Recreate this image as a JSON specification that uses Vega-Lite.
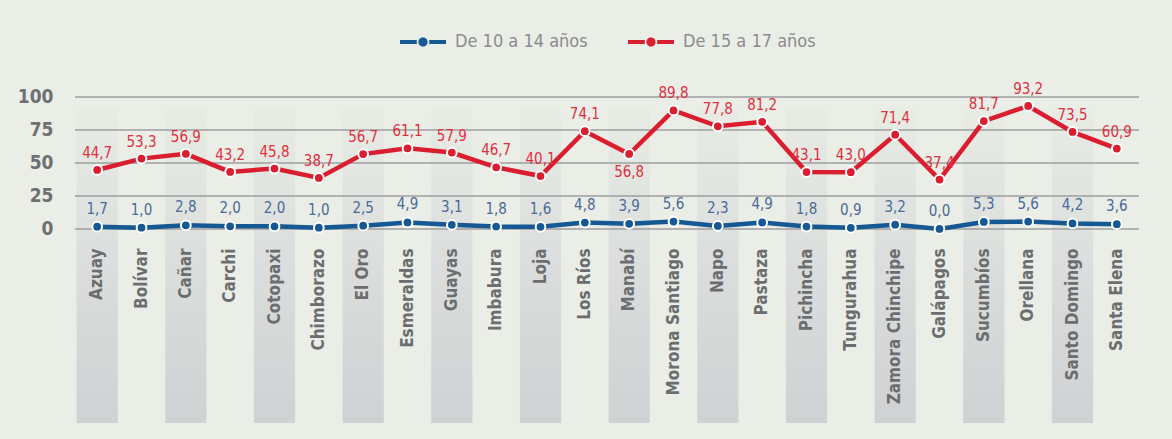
{
  "$schema": "https://vega.github.io/schema/vega-lite/v6.json",
  "width": 1064,
  "height": 363,
  "autosize": {"type": "none"},
  "padding": {"left": 75, "top": 60, "right": 33, "bottom": 16},
  "background": "#eaeee6",
  "config": {
    "view": {"stroke": null},
    "locale": {"number": {"decimal": ",", "thousands": ".", "grouping": [3], "currency": ["", ""]}},
    "font": "Liberation Sans Narrow, DejaVu Sans Condensed"
  },
  "datasets": {
    "grid": [{"v": 0}, {"v": 25}, {"v": 50}, {"v": 75}, {"v": 100}]
  },
  "data": {
    "values": [
      {"provincia": "Azuay", "grupo": "De 10 a 14 años", "valor": 1.7},
      {"provincia": "Bolívar", "grupo": "De 10 a 14 años", "valor": 1.0},
      {"provincia": "Cañar", "grupo": "De 10 a 14 años", "valor": 2.8},
      {"provincia": "Carchi", "grupo": "De 10 a 14 años", "valor": 2.0},
      {"provincia": "Cotopaxi", "grupo": "De 10 a 14 años", "valor": 2.0},
      {"provincia": "Chimborazo", "grupo": "De 10 a 14 años", "valor": 1.0},
      {"provincia": "El Oro", "grupo": "De 10 a 14 años", "valor": 2.5},
      {"provincia": "Esmeraldas", "grupo": "De 10 a 14 años", "valor": 4.9},
      {"provincia": "Guayas", "grupo": "De 10 a 14 años", "valor": 3.1},
      {"provincia": "Imbabura", "grupo": "De 10 a 14 años", "valor": 1.8},
      {"provincia": "Loja", "grupo": "De 10 a 14 años", "valor": 1.6},
      {"provincia": "Los Ríos", "grupo": "De 10 a 14 años", "valor": 4.8},
      {"provincia": "Manabí", "grupo": "De 10 a 14 años", "valor": 3.9},
      {"provincia": "Morona Santiago", "grupo": "De 10 a 14 años", "valor": 5.6},
      {"provincia": "Napo", "grupo": "De 10 a 14 años", "valor": 2.3},
      {"provincia": "Pastaza", "grupo": "De 10 a 14 años", "valor": 4.9},
      {"provincia": "Pichincha", "grupo": "De 10 a 14 años", "valor": 1.8},
      {"provincia": "Tungurahua", "grupo": "De 10 a 14 años", "valor": 0.9},
      {"provincia": "Zamora Chinchipe", "grupo": "De 10 a 14 años", "valor": 3.2},
      {"provincia": "Galápagos", "grupo": "De 10 a 14 años", "valor": 0.0},
      {"provincia": "Sucumbíos", "grupo": "De 10 a 14 años", "valor": 5.3},
      {"provincia": "Orellana", "grupo": "De 10 a 14 años", "valor": 5.6},
      {"provincia": "Santo Domingo", "grupo": "De 10 a 14 años", "valor": 4.2},
      {"provincia": "Santa Elena", "grupo": "De 10 a 14 años", "valor": 3.6},
      {"provincia": "Azuay", "grupo": "De 15 a 17 años", "valor": 44.7},
      {"provincia": "Bolívar", "grupo": "De 15 a 17 años", "valor": 53.3},
      {"provincia": "Cañar", "grupo": "De 15 a 17 años", "valor": 56.9},
      {"provincia": "Carchi", "grupo": "De 15 a 17 años", "valor": 43.2},
      {"provincia": "Cotopaxi", "grupo": "De 15 a 17 años", "valor": 45.8},
      {"provincia": "Chimborazo", "grupo": "De 15 a 17 años", "valor": 38.7},
      {"provincia": "El Oro", "grupo": "De 15 a 17 años", "valor": 56.7},
      {"provincia": "Esmeraldas", "grupo": "De 15 a 17 años", "valor": 61.1},
      {"provincia": "Guayas", "grupo": "De 15 a 17 años", "valor": 57.9},
      {"provincia": "Imbabura", "grupo": "De 15 a 17 años", "valor": 46.7},
      {"provincia": "Loja", "grupo": "De 15 a 17 años", "valor": 40.1},
      {"provincia": "Los Ríos", "grupo": "De 15 a 17 años", "valor": 74.1},
      {"provincia": "Manabí", "grupo": "De 15 a 17 años", "valor": 56.8},
      {"provincia": "Morona Santiago", "grupo": "De 15 a 17 años", "valor": 89.8},
      {"provincia": "Napo", "grupo": "De 15 a 17 años", "valor": 77.8},
      {"provincia": "Pastaza", "grupo": "De 15 a 17 años", "valor": 81.2},
      {"provincia": "Pichincha", "grupo": "De 15 a 17 años", "valor": 43.1},
      {"provincia": "Tungurahua", "grupo": "De 15 a 17 años", "valor": 43.0},
      {"provincia": "Zamora Chinchipe", "grupo": "De 15 a 17 años", "valor": 71.4},
      {"provincia": "Galápagos", "grupo": "De 15 a 17 años", "valor": 37.4},
      {"provincia": "Sucumbíos", "grupo": "De 15 a 17 años", "valor": 81.7},
      {"provincia": "Orellana", "grupo": "De 15 a 17 años", "valor": 93.2},
      {"provincia": "Santo Domingo", "grupo": "De 15 a 17 años", "valor": 73.5},
      {"provincia": "Santa Elena", "grupo": "De 15 a 17 años", "valor": 60.9}
    ]
  },
  "encoding": {
    "x": {
      "field": "provincia",
      "type": "nominal",
      "sort": null,
      "scale": {
        "type": "band",
        "paddingInner": 0,
        "paddingOuter": 0,
        "domain": ["Azuay", "Bolívar", "Cañar", "Carchi", "Cotopaxi", "Chimborazo", "El Oro", "Esmeraldas", "Guayas", "Imbabura", "Loja", "Los Ríos", "Manabí", "Morona Santiago", "Napo", "Pastaza", "Pichincha", "Tungurahua", "Zamora Chinchipe", "Galápagos", "Sucumbíos", "Orellana", "Santo Domingo", "Santa Elena"]
      },
      "axis": {
        "title": null,
        "orient": "bottom",
        "offset": -177,
        "domain": false,
        "ticks": false,
        "labelAngle": -90,
        "labelAlign": "right",
        "labelBaseline": "middle",
        "labelPadding": 2,
        "labelFont": "Liberation Sans Narrow, DejaVu Sans Condensed",
        "labelFontWeight": "bold",
        "labelFontSize": 17,
        "labelColor": "#6b6d6f",
        "labelOverlap": false
      }
    }
  },
  "layer": [
    {
      "transform": [
        {"filter": "datum.grupo === 'De 10 a 14 años'"},
        {"window": [{"op": "row_number", "as": "rn"}]},
        {"filter": "datum.rn % 2 === 1"}
      ],
      "mark": {
        "type": "rect",
        "width": {"band": 0.93},
        "fill": {
          "gradient": "linear",
          "x1": 0, "y1": 0, "x2": 0, "y2": 1,
          "stops": [
            {"offset": 0, "color": "#e8ece4"},
            {"offset": 0.45, "color": "#dcdfdd"},
            {"offset": 1, "color": "#cfd1d3"}
          ]
        }
      },
      "encoding": {
        "y": {"datum": 92, "type": "quantitative", "scale": {"domain": [-147, 128], "nice": false, "zero": false}},
        "y2": {"datum": -147}
      }
    },
    {
      "data": {"name": "grid"},
      "mark": {"type": "rule", "color": "#9d9f9f", "strokeWidth": 1.5},
      "encoding": {
        "x": null,
        "y": {"field": "v", "type": "quantitative"}
      }
    },
    {
      "mark": {"type": "line", "strokeWidth": 4.5},
      "encoding": {
        "y": {
          "field": "valor",
          "type": "quantitative",
          "scale": {"domain": [-147, 128], "nice": false, "zero": false},
          "axis": {
            "title": null,
            "values": [0, 25, 50, 75, 100],
            "grid": false,
            "domain": false,
            "ticks": false,
            "labelPadding": 22,
            "labelFont": "Liberation Sans Narrow, DejaVu Sans Condensed",
            "labelFontWeight": "bold",
            "labelFontSize": 19,
            "labelColor": "#6e7072",
            "format": "d"
          }
        },
        "color": {
          "field": "grupo",
          "type": "nominal",
          "scale": {"domain": ["De 10 a 14 años", "De 15 a 17 años"], "range": ["#165893", "#da1e2f"]},
          "legend": {
            "title": null,
            "orient": "none",
            "direction": "horizontal",
            "legendX": 325,
            "legendY": -41,
            "symbolType": "M-1,-0.09H-0.27V0.09H-1Z M0.27,-0.09H1V0.09H0.27Z M0.2,0A0.2,0.2 0 1,1 -0.2,0A0.2,0.2 0 1,1 0.2,0Z",
            "symbolSize": 2116,
            "symbolStrokeWidth": 0,
            "labelFont": "Liberation Sans Narrow, DejaVu Sans Condensed",
            "labelFontSize": 18,
            "labelColor": "#8a8c8e",
            "labelOffset": 9,
            "columnPadding": 40,
            "encode": {
              "symbols": {
                "update": {
                  "fill": {"scale": "color", "field": "value"},
                  "stroke": {"value": "transparent"},
                  "opacity": {"value": 1}
                }
              }
            }
          }
        }
      }
    },
    {
      "mark": {"type": "point", "shape": "circle", "filled": true, "size": 95, "stroke": "white", "strokeWidth": 2, "opacity": 1},
      "encoding": {
        "y": {"field": "valor", "type": "quantitative"},
        "fill": {"field": "grupo", "type": "nominal", "scale": {"domain": ["De 10 a 14 años", "De 15 a 17 años"], "range": ["#165893", "#da1e2f"]}, "legend": null}
      }
    },
    {
      "transform": [{"filter": "datum.grupo === 'De 10 a 14 años'"}],
      "mark": {"type": "text", "dy": -18, "fontSize": 15, "color": "#4a6a9a", "baseline": "middle"},
      "encoding": {
        "y": {"field": "valor", "type": "quantitative"},
        "text": {"field": "valor", "type": "quantitative", "format": ".1f"}
      }
    },
    {
      "transform": [{"filter": "datum.grupo === 'De 15 a 17 años' && datum.provincia !== 'Manabí'"}],
      "mark": {"type": "text", "dy": -17, "fontSize": 15, "color": "#e0303f", "baseline": "middle"},
      "encoding": {
        "y": {"field": "valor", "type": "quantitative"},
        "text": {"field": "valor", "type": "quantitative", "format": ".1f"}
      }
    },
    {
      "transform": [{"filter": "datum.grupo === 'De 15 a 17 años' && datum.provincia === 'Manabí'"}],
      "mark": {"type": "text", "dy": 18, "fontSize": 15, "color": "#e0303f", "baseline": "middle"},
      "encoding": {
        "y": {"field": "valor", "type": "quantitative"},
        "text": {"field": "valor", "type": "quantitative", "format": ".1f"}
      }
    }
  ]
}
